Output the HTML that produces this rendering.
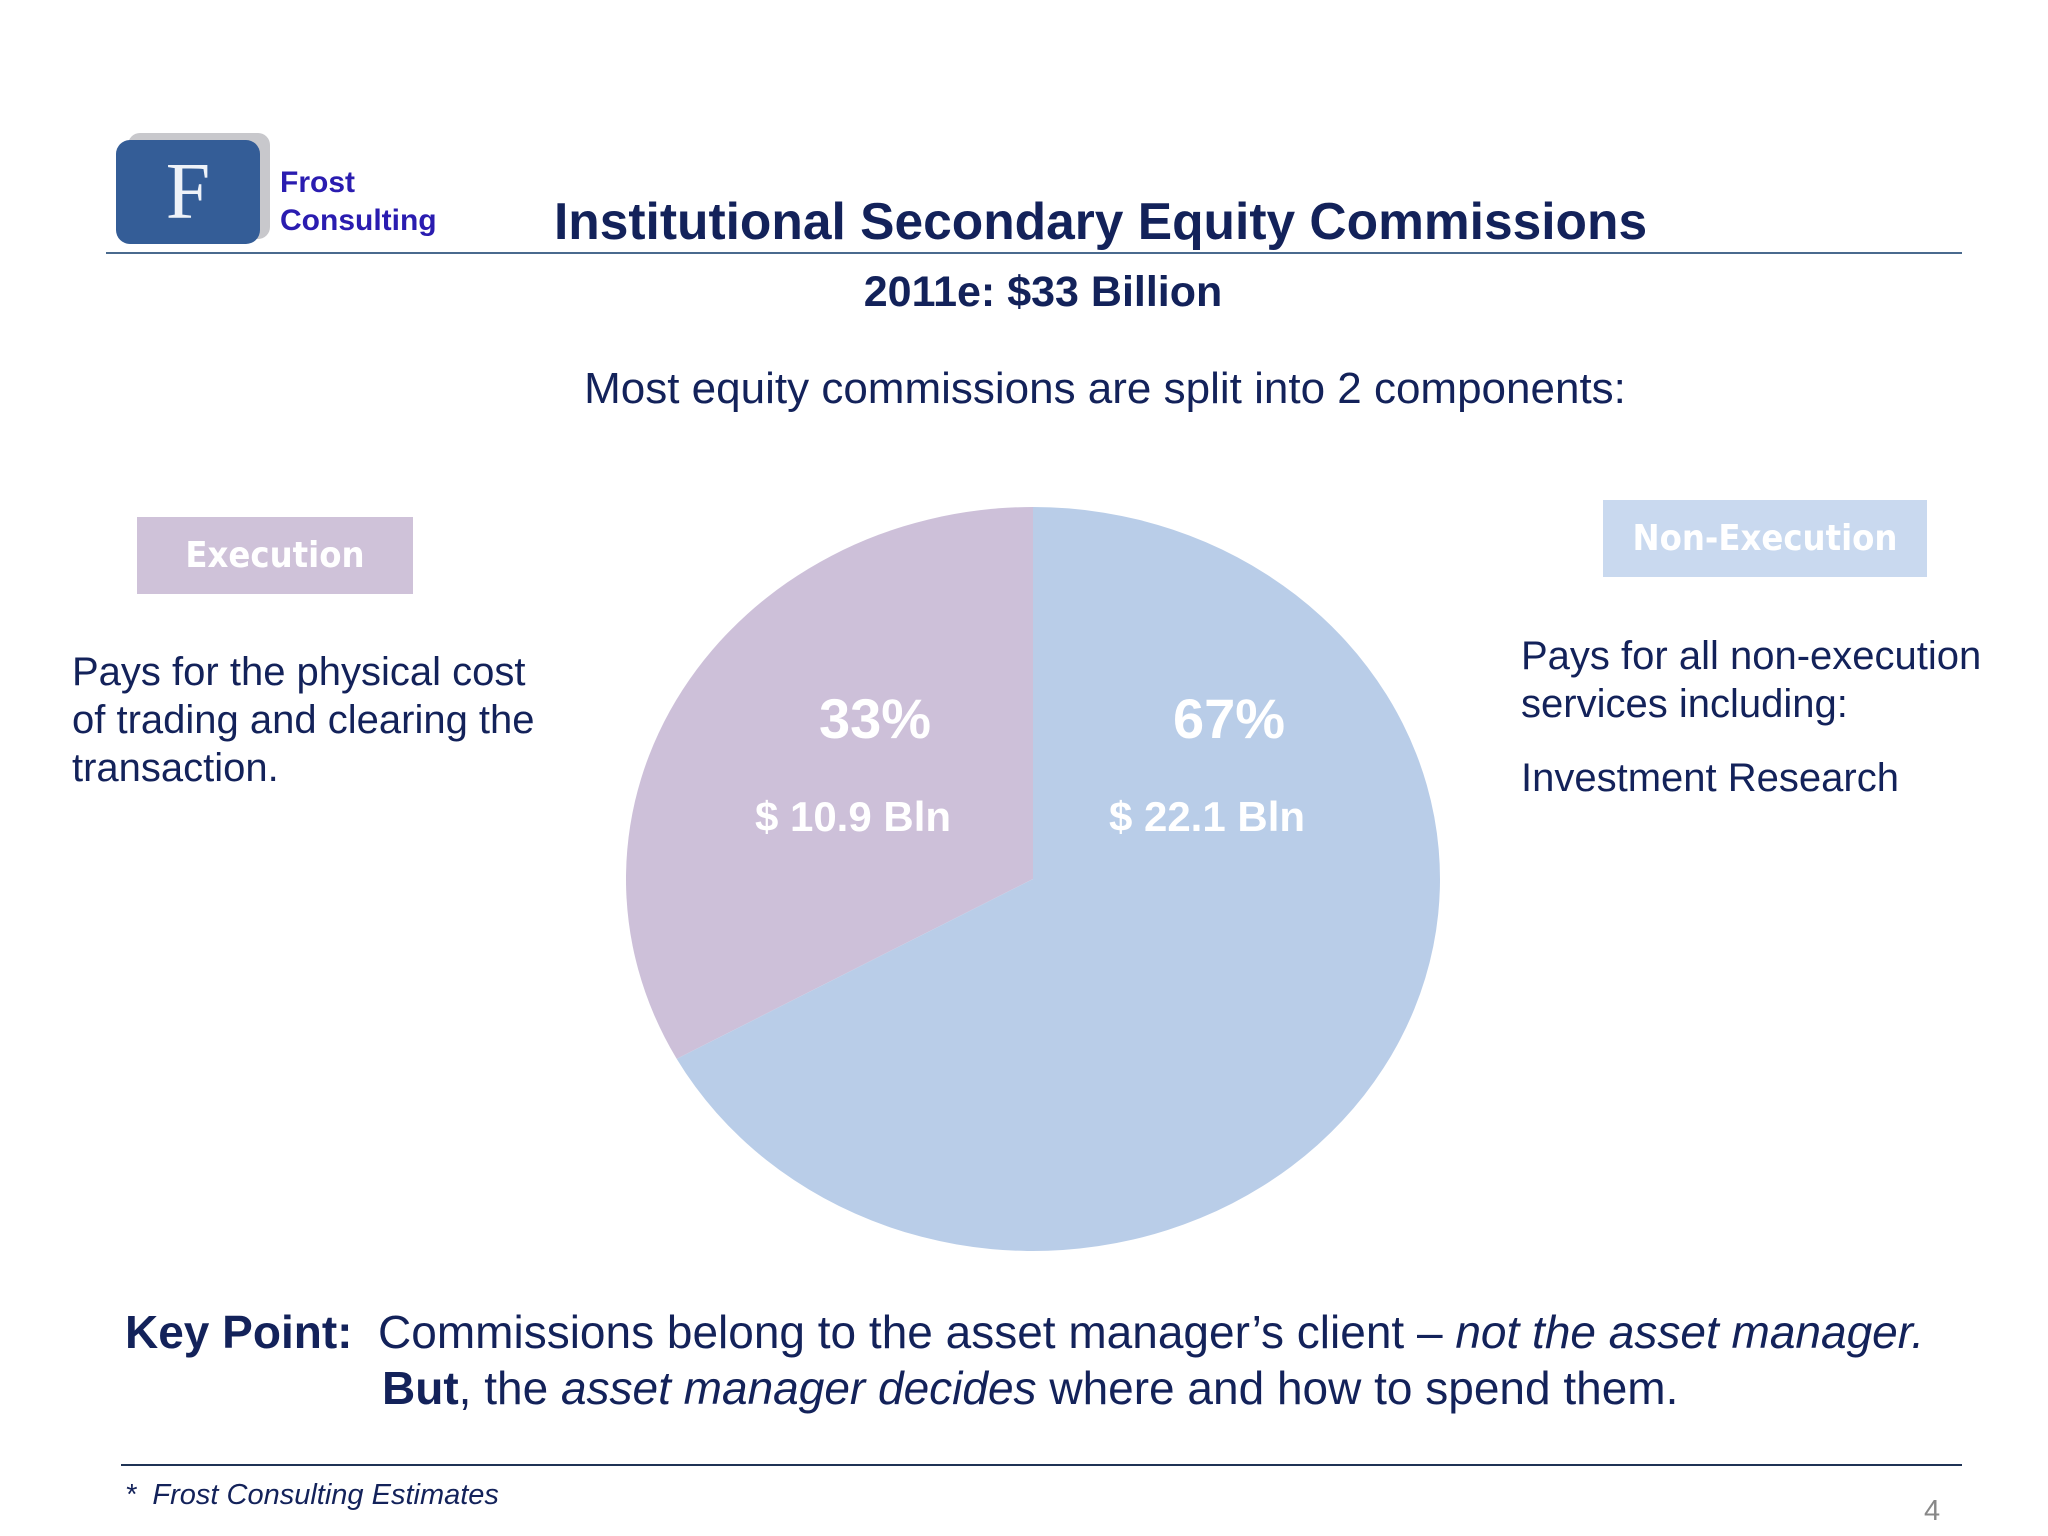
<!DOCTYPE html>
<html><head><meta charset="utf-8">
<style>
body{margin:0;width:2048px;height:1536px;background:#fff;position:relative;overflow:hidden;font-family:"Liberation Sans",sans-serif;color:#13225a}
.a{position:absolute;white-space:nowrap}
</style></head><body>
<div class="a" style="left:128px;top:133px;width:142px;height:106px;background:#c8c8cc;border-radius:12px"></div>
<div class="a" style="left:116px;top:140px;width:144px;height:104px;background:#345d97;border-radius:14px"></div>
<div class="a" style="left:116px;top:146px;width:144px;text-align:center;font:80px 'Liberation Serif',serif;color:#eef2f8;line-height:92px">F</div>
<div class="a" style="left:280px;top:164px;font-weight:bold;font-size:30px;line-height:38px;color:#2a1cb0">Frost<br>Consulting</div>
<div class="a" style="left:554px;top:191px;font-weight:bold;font-size:51.5px;color:#13225a">Institutional Secondary Equity Commissions</div>
<div class="a" style="left:106px;top:252px;width:1856px;height:2px;background:#4a6a8e"></div>
<div class="a" style="left:0;width:2086px;text-align:center;top:268px;font-weight:bold;font-size:43px">2011e: $33 Billion</div>
<div class="a" style="left:0;width:2210px;text-align:center;top:364px;font-size:44px">Most equity commissions are split into 2 components:</div>
<div class="a" style="left:137px;top:517px;width:276px;height:77px;background:#cfc2d9;color:#fff;font:bold 36px 'DejaVu Sans Condensed','DejaVu Sans',sans-serif;text-align:center;line-height:77px">Execution</div>
<div class="a" style="left:1603px;top:500px;width:324px;height:77px;background:#c9d9ef;color:#fff;font:bold 36px 'DejaVu Sans Condensed','DejaVu Sans',sans-serif;text-align:center;line-height:77px">Non-Execution</div>
<div class="a" style="left:72px;top:648px;font-size:40px;line-height:48px">Pays for the physical cost<br>of trading and clearing the<br>transaction.</div>
<div class="a" style="left:1521px;top:632px;font-size:40px;line-height:48px">Pays for all non-execution<br>services including:</div>
<div class="a" style="left:1521px;top:756px;font-size:40px">Investment Research</div>
<svg class="a" style="left:0;top:0" width="2048" height="1536" id="pie"></svg>
<div class="a" style="left:125px;top:1304px;font-size:46px;line-height:56px">
<b>Key Point:</b>&nbsp;&nbsp;Commissions belong to the asset manager’s client – <i>not the asset manager.</i><br>
<span style="padding-left:257px"><b>But</b>, the <i>asset manager decides</i> where and how to spend them.</span></div>
<div class="a" style="left:121px;top:1464px;width:1841px;height:2px;background:#1f3355"></div>
<div class="a" style="left:125px;top:1479px;font-size:29px;font-style:italic">*&nbsp; Frost Consulting Estimates</div>
<div class="a" style="left:1924px;top:1495px;font-size:29px;color:#888">4</div>
<script>
const categories=["Execution","Non-Execution"];
const values=[10.9,22.1];
const pctLabels=["33%","67%"];
const amtLabels=["$ 10.9 Bln","$ 22.1 Bln"];
const svg=document.getElementById('pie');
const NS='http://www.w3.org/2000/svg';
const cx=1033,cy=879,rx=407,ry=372;
const colors=["#cdc0d9","#b9cde8"];
const total=values.reduce((a,b)=>a+b,0);
function pt(frac){const t=frac*2*Math.PI;return [cx+rx*Math.sin(t),cy-ry*Math.cos(t)];}
let f0=-values[0]/total;
[0,1].forEach(i=>{
  const a=i===0?f0:0, b=i===0?0:values[1]/total;
  const p1=pt(a),p2=pt(b);
  const large=(b-a)>0.5?1:0;
  const p=document.createElementNS(NS,'path');
  p.setAttribute('d',`M${cx},${cy} L${p1[0]},${p1[1]} A${rx},${ry} 0 ${large} 1 ${p2[0]},${p2[1]} Z`);
  p.setAttribute('fill',colors[i]);
  
  
  svg.appendChild(p);
});
const lx=[875,1229];
[0,1].forEach(i=>{
  const t=document.createElementNS(NS,'text');
  t.setAttribute('x',lx[i]);t.setAttribute('y',738);
  t.setAttribute('text-anchor','middle');t.setAttribute('fill','#fff');
  t.setAttribute('font-family','Liberation Sans');t.setAttribute('font-weight','bold');t.setAttribute('font-size','56');
  t.textContent=pctLabels[i];
  
  
  svg.appendChild(t);
  const u=document.createElementNS(NS,'text');
  u.setAttribute('x',lx[i]-22);u.setAttribute('y',831);
  u.setAttribute('text-anchor','middle');u.setAttribute('fill','#fff');
  u.setAttribute('font-family','Liberation Sans');u.setAttribute('font-weight','bold');u.setAttribute('font-size','42');
  u.textContent=amtLabels[i];
  
  
  svg.appendChild(u);
});
</script>
</body></html>
